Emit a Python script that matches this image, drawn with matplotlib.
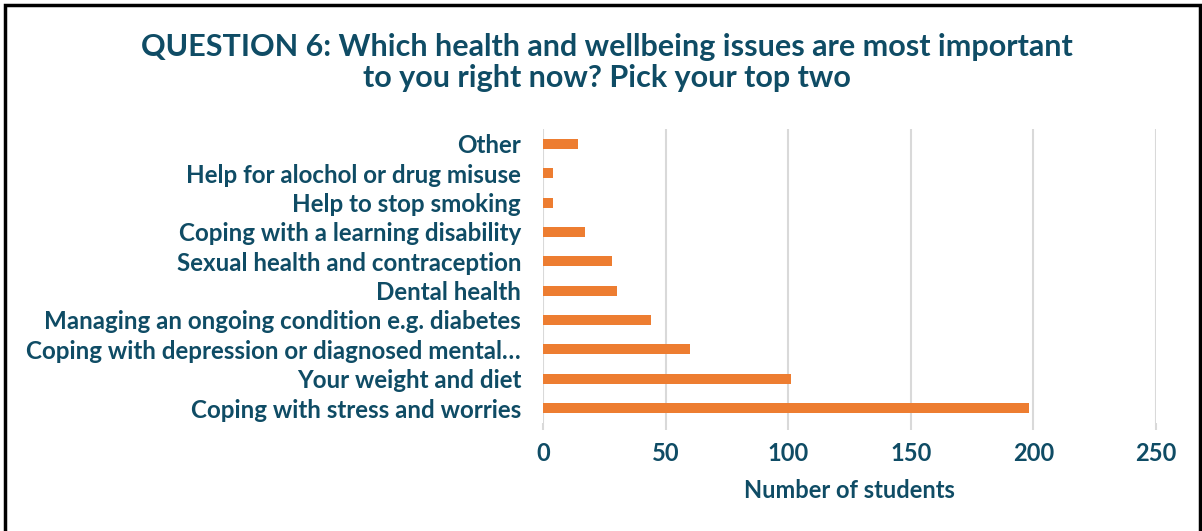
import matplotlib.pyplot as plt
from matplotlib.patches import Rectangle

categories = [
    "Coping with stress and worries",
    "Your weight and diet",
    "Coping with depression or diagnosed mental\u2026",
    "Managing an ongoing condition e.g. diabetes",
    "Dental health",
    "Sexual health and contraception",
    "Coping with a learning disability",
    "Help to stop smoking",
    "Help for alochol or drug misuse",
    "Other",
]
students = [198, 101, 60, 44, 30, 28, 17, 4, 4, 14]
x_ticks = [0, 50, 100, 150, 200, 250]

text_color = "#0F4C65"
bar_color = "#ED7D31"
grid_color = "#D9D9D9"

plt.rcParams["font.family"] = ["Lato", "DejaVu Sans"]
plt.rcParams["font.weight"] = "bold"

fig = plt.figure(figsize=(12.02, 5.31), dpi=100)
ax = fig.add_axes([0.452, 0.204, 0.5097, 0.5525])

ax.barh(range(len(categories)), students, height=0.35, color=bar_color)
ax.set_ylim(-0.5, len(categories) - 0.5)
ax.set_xlim(0, 250)
ax.set_xticks(x_ticks)
ax.set_yticks(range(len(categories)))
ax.set_yticklabels(categories)

ax.grid(axis="x", color=grid_color, linewidth=1.5)
ax.set_axisbelow(True)
for s in ax.spines.values():
    s.set_visible(False)
ax.tick_params(axis="y", length=0, pad=16, labelsize=17.4, labelcolor=text_color)
ax.tick_params(axis="x", length=5, color=grid_color, width=1.5, pad=9,
               labelsize=17, labelcolor=text_color)
ax.set_xlabel("Number of students", fontsize=17, color=text_color,
              fontweight="bold", labelpad=10)

fig.text(0.505, 0.882,
         "QUESTION 6: Which health and wellbeing issues are most important\nto you right now? Pick your top two",
         ha="center", va="center", fontsize=22, fontweight="bold",
         color=text_color, linespacing=1.12)

# outer frame
fig.patches.append(Rectangle((0.004, -0.01), 0.994, 1.0, transform=fig.transFigure,
                             fill=False, edgecolor="black", linewidth=2.5))

fig.savefig("out.png", dpi=100)
